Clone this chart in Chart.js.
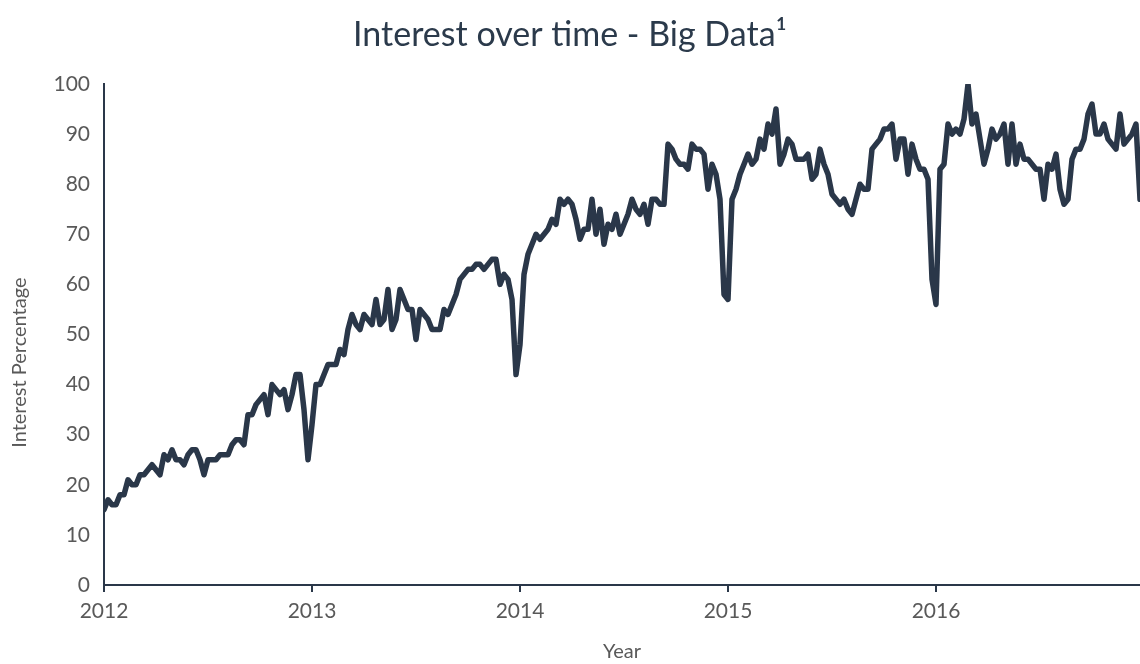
<!DOCTYPE html>
<html>
<head>
<meta charset="utf-8">
<script src="https://cdn.jsdelivr.net/npm/chart.js@4/dist/chart.umd.min.js"></script>
<style>
  html, body { margin: 0; padding: 0; background: #ffffff; }
  #chart-wrap { width: 1140px; height: 664px; }
</style>
</head>
<body>
<div id="chart-wrap"><canvas id="interest-chart" width="1140" height="664"></canvas></div>
<script>
// Weekly interest values (Google Trends style), one array per year, 52 weeks each
const weeks2012 = [15,17,16,16,18,18,21,20,20,22,22,23,24,23,22,26,25,27,25,25,24,26,27,27,25,22,
                   25,25,25,26,26,26,28,29,29,28,34,34,36,37,38,34,40,39,38,39,35,38,42,42,35,25];
const weeks2013 = [32,40,40,42,44,44,44,47,46,51,54,52,51,54,53,52,57,52,53,59,51,53,59,57,55,55,
                   49,55,54,53,51,51,51,55,54,56,58,61,62,63,63,64,64,63,64,65,65,60,62,61,57,42];
const weeks2014 = [48,62,66,68,70,69,70,71,73,72,77,76,77,76,73,69,71,71,77,70,75,68,72,71,74,70,
                   72,74,77,75,74,76,72,77,77,76,76,88,87,85,84,84,83,88,87,87,86,79,84,82,77,58];
const weeks2015 = [57,77,79,82,84,86,84,85,89,87,92,90,95,84,86,89,88,85,85,85,86,81,82,87,84,82,
                   78,77,76,77,75,74,77,80,79,79,87,88,89,91,91,92,85,89,89,82,88,85,83,83,81,61];
const weeks2016 = [56,83,84,92,90,91,90,93,100,92,94,89,84,87,91,89,90,92,84,92,84,88,85,85,84,83,
                   83,77,84,83,86,79,76,77,85,87,87,89,94,96,90,90,92,89,88,87,94,88,89,90,92,77];

const years = [2012, 2013, 2014, 2015, 2016];
const yearlyValues = [weeks2012, weeks2013, weeks2014, weeks2015, weeks2016];
const weeksPerYear = 52;

// --- build points: x = year + week / 52 ---
const points = [];
yearlyValues.forEach((values, idx) => {
    values.forEach((v, w) => {
        points.push({ x: years[idx] + w / weeksPerYear, y: v });
    });
});

const lineColor = '#2a3749';
const textGray = '#595959';
const fontFamily = 'Lato, "Open Sans", sans-serif';

const ctx = document.getElementById('interest-chart').getContext('2d');
new Chart(ctx, {
    type: 'line',
    data: {
        datasets: [{
            label: 'Big Data',
            data: points,
            borderColor: lineColor,
            borderWidth: 5.5,
            borderJoinStyle: 'round',
            borderCapStyle: 'round',
            pointRadius: 0,
            tension: 0,
            fill: false,
        }]
    },
    options: {
        responsive: false,
        animation: false,
        devicePixelRatio: 1,
        layout: { padding: { left: 0, right: 0, top: 0, bottom: 0 } },
        plugins: {
            legend: { display: false },
            tooltip: { enabled: false },
            title: {
                display: true,
                text: 'Interest over time - Big Data\u00b9',
                color: '#2b3a4b',
                font: { family: fontFamily, size: 34, weight: 'normal' },
                padding: { top: 15, bottom: 28.2 },
            },
        },
        scales: {
            x: {
                type: 'linear',
                min: years[0],
                max: years[0] + (points.length - 1) / weeksPerYear,
                afterFit: (scale) => { scale.height = 664 - 585; },
                border: { display: true, color: lineColor, width: 2 },
                grid: { display: true, drawOnChartArea: false, drawTicks: true, tickLength: 7, color: lineColor, lineWidth: 2 },
                ticks: {
                    stepSize: 1,
                    includeBounds: false,
                    color: textGray,
                    padding: 7,
                    maxRotation: 0,
                    font: { family: fontFamily, size: 21 },
                    callback: (value) => Number.isInteger(value) ? String(value) : '',
                },
                title: {
                    display: true,
                    text: 'Year',
                    color: textGray,
                    font: { family: fontFamily, size: 20 },
                    padding: { top: 0, bottom: 0 },
                },
            },
            y: {
                min: 0,
                max: 100,
                afterFit: (scale) => { scale.width = 104; },
                border: { display: true, color: lineColor, width: 2 },
                grid: { display: false, drawTicks: false },
                ticks: {
                    stepSize: 10,
                    color: textGray,
                    padding: 14,
                    font: { family: fontFamily, size: 21 },
                },
                title: {
                    display: true,
                    // trailing spaces push the visible text a bit lower, like the original
                    text: 'Interest Percentage' + '\u00a0'.repeat(11),
                    color: textGray,
                    font: { family: fontFamily, size: 20 },
                    padding: { top: 8, bottom: 0 },
                },
            },
        },
    },
});
</script>
</body>
</html>
